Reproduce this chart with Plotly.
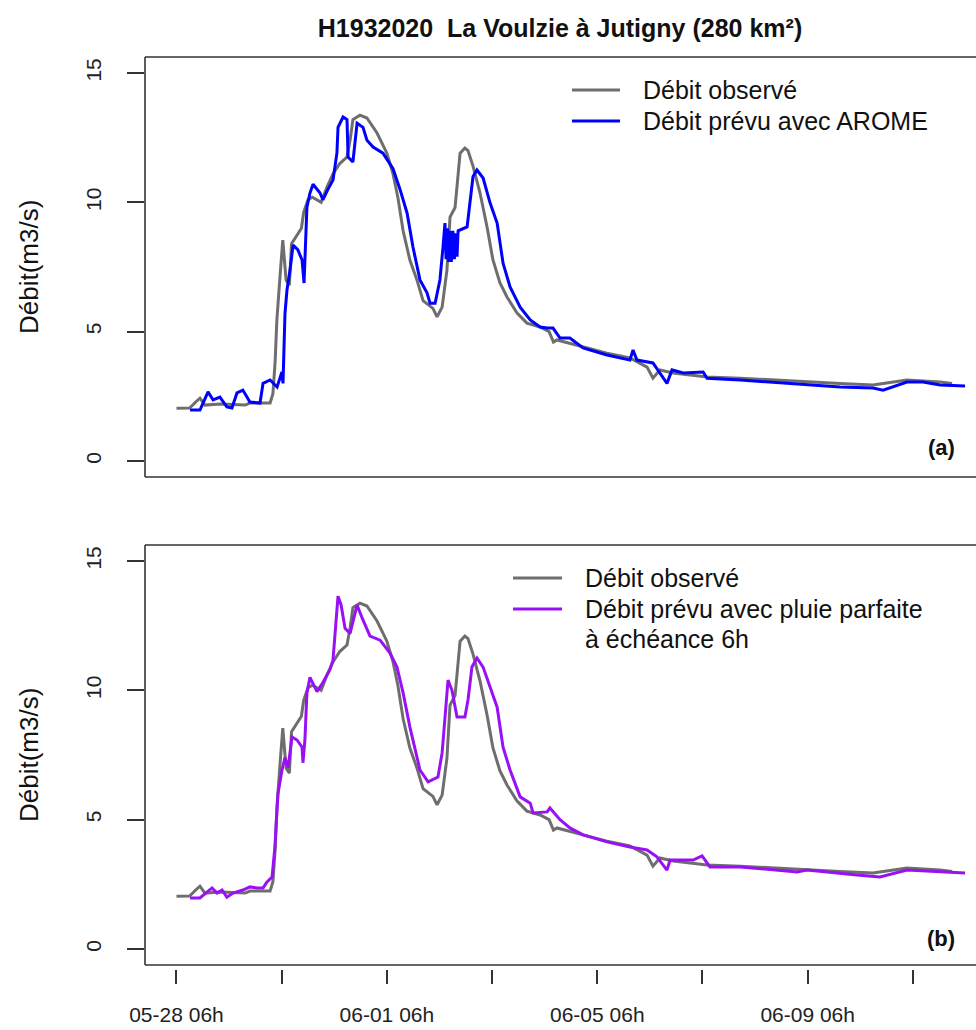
import pandas as pd
import plotly.graph_objects as go

# ---------------- data (hours after 2016-05-28 06h, m3/s) ----------------
T0 = "2016-05-28 06:00"

obs_h = [0, 6, 9, 10.7, 13, 20, 31.3, 33.5, 42.7, 44, 45, 45.8, 47.2, 48.5, 50, 51.5, 52.5, 54, 57, 58, 60, 62, 66,
         68.7, 71.4, 74.5, 77.8, 79.2, 80.5, 83.7, 86.9, 91.5, 96, 98.8, 101, 103.4, 106.5, 109.7, 112.5, 117, 118.9,
         121.2, 123.4, 124.8, 127.1, 129.4, 131.6, 133, 135.3, 138.5, 141.7, 144.4, 147.6, 150.8, 155.4, 159.9, 165.9,
         170, 172, 173.6, 185.5, 196.4, 206.9, 211.5, 214.7, 217.4, 220.6, 226.6, 242.1, 257.2, 272.2, 287.7, 302.8,
         317.8, 325.6, 333.3, 348.4, 353.9]
obs_v = [2.04, 2.05, 2.3, 2.43, 2.16, 2.2, 2.16, 2.24, 2.24, 2.6, 3.83, 5.45, 7.1, 8.54, 7.0, 6.8, 8.4, 8.6, 9.0, 9.6,
         10.1, 10.2, 10.0, 10.6, 11.1, 11.5, 11.75, 12.4, 13.2, 13.37, 13.26, 12.68, 11.9, 11.1, 10.2, 8.9, 7.77, 7.0,
         6.2, 5.9, 5.57, 5.95, 7.38, 9.43, 9.8, 11.9, 12.1, 12.0, 11.4, 10.36, 9.05, 7.77, 6.88, 6.34, 5.72, 5.33, 5.18,
         5.0, 4.6, 4.68, 4.41, 4.17, 3.98, 3.79, 3.63, 3.2, 3.52, 3.4, 3.25, 3.2, 3.13, 3.05, 3.0, 2.94, 3.05, 3.13,
         3.05, 3.0]

arome_h = [6.2, 10.7, 14.4, 16.7, 19.8, 23, 25.3, 27.6, 30.3, 33.5, 38.1, 39.5, 42.7, 45.9, 48.1, 48.6, 49.5, 50.4,
           51.8, 53.2, 55.4, 57.3, 58.2, 58.6, 59.5, 60.9, 62.3, 65.5, 66.8, 69.1, 71.4, 73.2, 73.7, 76, 77.8, 78.3,
           80.5, 82.4, 85.1, 86.9, 89.7, 94.2, 98.8, 102, 105.2, 107.9, 111.1, 114.3, 115.7, 118, 120.2, 121.6, 122.5,
           123, 123.6, 124.2, 124.8, 125.4, 126.1, 126.8, 127.4, 128, 128.5, 132.6, 133.9, 135.3, 137.1, 139.9, 143.1,
           146.3, 149, 152.2, 156.8, 161.4, 165.9, 169.1, 171.8, 175, 179.5, 185.5, 196.4, 206.9, 208.3, 210.1, 217.4,
           223.8, 226.1, 231.2, 240.3, 242.1, 257.2, 272.2, 287.7, 302.8, 317.8, 322.4, 333.3, 340.6, 348.4, 359.8]
arome_v = [1.97, 1.97, 2.67, 2.36, 2.47, 2.09, 2.05, 2.63, 2.74, 2.28, 2.24, 3.0, 3.13, 2.86, 3.44, 3.0, 5.7, 6.6,
           7.38, 8.35, 8.16, 7.77, 6.88, 7.9, 9.8, 10.36, 10.7, 10.36, 10.1, 10.5, 10.86, 11.9, 12.9, 13.3, 13.2, 11.75,
           11.56, 13.06, 12.9, 12.4, 12.14, 11.9, 11.3, 10.5, 9.59, 8.27, 7.0, 6.5, 6.1, 6.1, 7.0, 8.27, 9.2,
           7.8, 9.0, 7.7, 8.9, 7.7, 8.9, 7.8, 8.8, 7.9, 8.9, 9.05, 10.1, 11.0, 11.25, 10.94, 9.97,
           9.2, 7.65, 6.73, 5.95, 5.45, 5.18, 5.14, 5.14, 4.75, 4.75, 4.37, 4.1, 3.9, 4.29, 3.9, 3.79,
           3.0, 3.52, 3.4, 3.44, 3.2, 3.13, 3.05, 2.94, 2.86, 2.82, 2.74, 3.05, 3.05, 2.94, 2.9]

pp_h = [6.2, 10.7, 16.2, 18.5, 20.8, 23, 25.8, 30.3, 33.5, 36.7, 39.5, 41.3, 43.6, 44.9, 46.3, 48.1, 49.5, 50.9, 52.7,
        55, 57.3, 57.7, 58.6, 59.5, 60.9, 64.1, 66.8, 70, 71.4, 72.8, 73.7, 75.1, 76.9, 79.2, 82.4, 84.7, 88.3, 92.9,
        97.4, 100.6, 103.4, 106.5, 109.7, 111.1, 114.8, 119.3, 121.2, 122.5, 123.9, 125.7, 128, 131.6, 133, 134.8,
        137.1, 139.9, 143.1, 146.3, 149, 152.2, 156.8, 161.4, 162.7, 169.1, 170.4, 175, 179.5, 185.5, 196.4, 206.9,
        214.7, 219.2, 223.8, 225.2, 235.7, 239.8, 243.4, 257.2, 283.2, 287.7, 310.5, 321, 333.3, 359.8]
pp_v = [1.97, 1.97, 2.36, 2.16, 2.28, 2.0, 2.16, 2.28, 2.4, 2.36, 2.36, 2.59, 2.78, 3.94, 6.0, 6.9, 7.4, 7.0, 8.2,
        8.08, 7.8, 7.2, 8.08, 9.9, 10.5, 9.95, 10.3, 10.8, 11.17, 12.8, 13.64, 13.3, 12.4, 12.2, 13.3, 12.8, 12.1, 11.94,
        11.44, 10.9, 9.9, 8.58, 7.42, 6.92, 6.46, 6.65, 7.58, 8.97, 10.4, 10.0, 8.97, 8.97, 9.63, 10.9,
        11.25, 10.9, 10.13, 9.35, 7.8, 6.92, 5.88, 5.64, 5.26, 5.3, 5.45, 5.0, 4.68, 4.41, 4.14, 3.94,
        3.83, 3.56, 3.05, 3.44, 3.44, 3.6, 3.17, 3.17, 2.98, 3.05, 2.86, 2.78, 3.05, 2.94]

tick_hours = [0, 48, 96, 144, 192, 240, 288, 336]
tick_text = ["05-28 06h", "", "06-01 06h", "", "06-05 06h", "", "06-09 06h", ""]
y_ticks = [0, 5, 10, 15]

# ---------------- helpers ----------------
t0 = pd.Timestamp(T0)
def to_dt(hours):
    return [t0 + pd.Timedelta(hours=h) for h in hours]

GRAY = "#6E6E6E"
BLUE = "#0000FF"
PURPLE = "#9A10F5"
FONT = "Liberation Sans, Arial, sans-serif"

W, H = 976, 1030
L, T, B = 145, 57, 61
PW, PH = W - L, H - T - B
def px(x):
    return (x - L) / PW
def py(y):
    return (H - B - y) / PH

fig = go.Figure()
fig.add_trace(go.Scatter(x=to_dt(obs_h), y=obs_v, mode="lines", line=dict(color=GRAY, width=3),
                         xaxis="x", yaxis="y", showlegend=False))
fig.add_trace(go.Scatter(x=to_dt(arome_h), y=arome_v, mode="lines", line=dict(color=BLUE, width=3),
                         xaxis="x", yaxis="y", showlegend=False))
fig.add_trace(go.Scatter(x=to_dt(obs_h), y=obs_v, mode="lines", line=dict(color=GRAY, width=3),
                         xaxis="x2", yaxis="y2", showlegend=False))
fig.add_trace(go.Scatter(x=to_dt(pp_h), y=pp_v, mode="lines", line=dict(color=PURPLE, width=3),
                         xaxis="x2", yaxis="y2", showlegend=False))

xr = [t0 + pd.Timedelta(hours=-14.37), t0 + pd.Timedelta(hours=364.8)]
yr = [-0.62, 15.62]

tickvals = to_dt(tick_hours)
yaxis_common = dict(range=yr, showgrid=False, zeroline=False, showline=False, automargin=False,
                    tickvals=y_ticks, ticks="outside", ticklen=17, tickwidth=1.5, tickcolor="#333333",
                    tickangle=-90, tickfont=dict(size=21, color="#222222"), ticklabelstandoff=18)
fig.update_layout(
    width=W, height=H,
    margin=dict(l=L, r=0, t=T, b=B, pad=0, autoexpand=False),
    paper_bgcolor="white", plot_bgcolor="white",
    font=dict(family=FONT, color="#222222"),
    title=dict(text="<b>H1932020  La Voulzie à Jutigny (280 km²)</b>", xref="container", yref="container",
               x=560 / W, xanchor="center", y=1 - 28 / H, yanchor="middle", automargin=False,
               font=dict(family=FONT, size=25, color="#111111")),
    xaxis=dict(domain=[0, 1], range=xr, anchor="y", showgrid=False, zeroline=False, showline=False,
               showticklabels=False, ticks="", automargin=False),
    yaxis=dict(domain=[py(477), py(57)], **yaxis_common),
    xaxis2=dict(domain=[0, 1], range=xr, anchor="free", position=0, showgrid=False, zeroline=False,
                showline=False, tickvals=tickvals, ticktext=tick_text, ticks="outside", ticklen=14,
                tickwidth=1.5, tickcolor="#333333", tickangle=0, tickfont=dict(size=21, color="#222222"),
                ticklabelstandoff=13, automargin=False),
    yaxis2=dict(domain=[py(965), py(545)], **yaxis_common),
)

# panel boxes (left, top, bottom edges; right edge is outside the view)
shapes = []
for xr_, yr_ in (("x domain", "y domain"), ("x2 domain", "y2 domain")):
    for (x0, y0, x1, y1) in ((0, 0, 0, 1), (0, 1, 1, 1), (0, 0, 1, 0)):
        shapes.append(dict(type="line", xref=xr_, yref=yr_, x0=x0, y0=y0, x1=x1, y1=y1,
                           line=dict(color="#333333", width=1.6)))

# legend samples
def leg_line(x0, x1, y, color):
    shapes.append(dict(type="line", xref="paper", yref="paper", x0=px(x0), x1=px(x1), y0=py(y), y1=py(y),
                       line=dict(color=color, width=3)))
leg_line(572, 620, 90, GRAY)
leg_line(572, 620, 121, BLUE)
leg_line(513, 562, 578, GRAY)
leg_line(513, 562, 609, PURPLE)
fig.update_layout(shapes=shapes)

ann = []
def text(x, y, s, size=25, xanchor="left", bold=False, angle=0):
    ann.append(dict(xref="paper", yref="paper", x=px(x), y=py(y), text=f"<b>{s}</b>" if bold else s,
                    showarrow=False, xanchor=xanchor, yanchor="middle", textangle=angle,
                    font=dict(family=FONT, size=size, color="#111111")))
text(641, 90, "Débit observé")
text(641, 121, "Débit prévu avec AROME")
text(583, 578, "Débit observé")
text(583, 609, "Débit prévu avec pluie parfaite")
text(583, 639, "à échéance 6h")
text(941, 447, "(a)", size=22, xanchor="center", bold=True)
text(941, 938, "(b)", size=22, xanchor="center", bold=True)
text(29, 267, "Débit(m3/s)", size=26, xanchor="center", angle=-90)
text(29, 755, "Débit(m3/s)", size=26, xanchor="center", angle=-90)
fig.update_layout(annotations=ann)

fig.write_html("out.html")
